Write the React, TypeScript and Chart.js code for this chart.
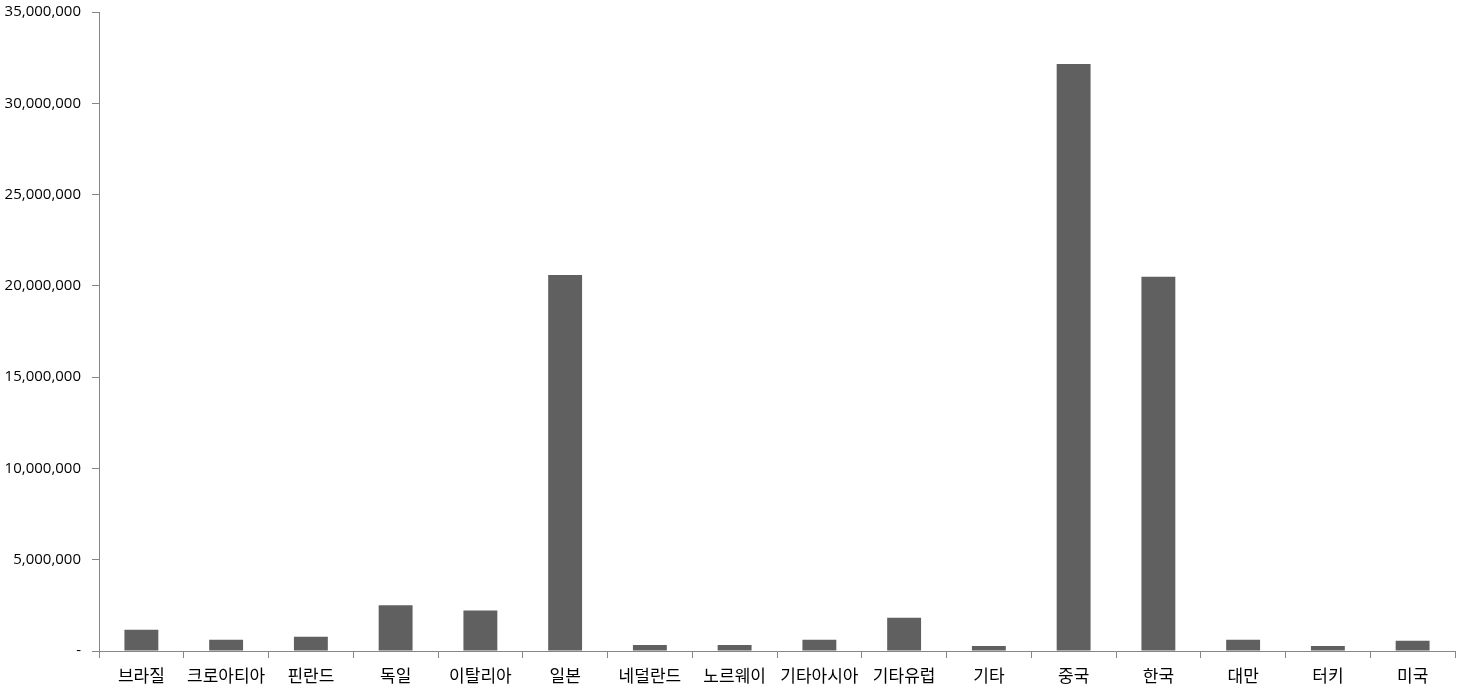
import React, { useEffect, useRef } from "react";
import { Chart, registerables } from "chart.js";

Chart.register(...registerables);

const categories: string[] = [
  "브라질", "크로아티아", "핀란드", "독일", "이탈리아", "일본", "네덜란드", "노르웨이",
  "기타아시아", "기타유럽", "기타", "중국", "한국", "대만", "터키", "미국",
];

const values: number[] = [
  1170000, 610000, 780000, 2500000, 2220000, 20600000, 330000, 330000,
  610000, 1820000, 280000, 32150000, 20500000, 610000, 280000, 560000,
];

const yTicks: number[] = [0, 5000000, 10000000, 15000000, 20000000, 25000000, 30000000, 35000000];

export default function App() {
  const ref = useRef<HTMLCanvasElement | null>(null);

  useEffect(() => {
    document.body.style.margin = "0";
    const canvas = ref.current;
    if (!canvas) return;
    const axisColor = "#868686";
    const chart = new Chart(canvas, {
      type: "bar",
      data: {
        labels: categories,
        datasets: [
          {
            data: values,
            backgroundColor: "#606060",
            borderWidth: 0,
            barPercentage: 0.4,
            categoryPercentage: 1.0,
          },
        ],
      },
      options: {
        animation: false,
        responsive: false,
        maintainAspectRatio: false,
        layout: { padding: { top: 12, right: 10, left: 0, bottom: 0 } },
        plugins: { legend: { display: false }, tooltip: { enabled: false } },
        scales: {
          x: {
            grid: {
              display: true,
              drawOnChartArea: false,
              drawTicks: true,
              tickLength: 7,
              color: axisColor,
              offset: true,
            },
            border: { color: axisColor, width: 1 },
            ticks: {
              color: "#000",
              font: { family: "'Noto Sans CJK KR', sans-serif", size: 17 },
              maxRotation: 0,
              autoSkip: false,
              padding: 7,
            },
            afterFit: (scale: any) => {
              scale.height = 44;
              scale.paddingLeft = 0;
              scale.paddingRight = 0;
            },
          },
          y: {
            min: 0,
            max: 35000000,
            afterBuildTicks: (scale: any) => {
              scale.ticks = yTicks.map((v) => ({ value: v }));
            },
            grid: {
              display: true,
              drawOnChartArea: false,
              drawTicks: true,
              tickLength: 7,
              color: axisColor,
            },
            border: { color: axisColor, width: 1 },
            ticks: {
              color: "#000",
              font: { family: "'Open Sans', 'Noto Sans', sans-serif", size: 15 },
              padding: 11,
              callback: (v: any) => (Number(v) === 0 ? "-" : Number(v).toLocaleString("en-US")),
            },
            afterFit: (scale: any) => {
              scale.width = 99;
              scale.paddingTop = 0;
              scale.paddingBottom = 0;
            },
          },
        },
      },
    });
    return () => chart.destroy();
  }, []);

  return (
    <div style={{ width: 1465, height: 695, background: "#fff" }}>
      <canvas ref={ref} width={1465} height={695} style={{ width: 1465, height: 695, display: "block" }} />
    </div>
  );
}
